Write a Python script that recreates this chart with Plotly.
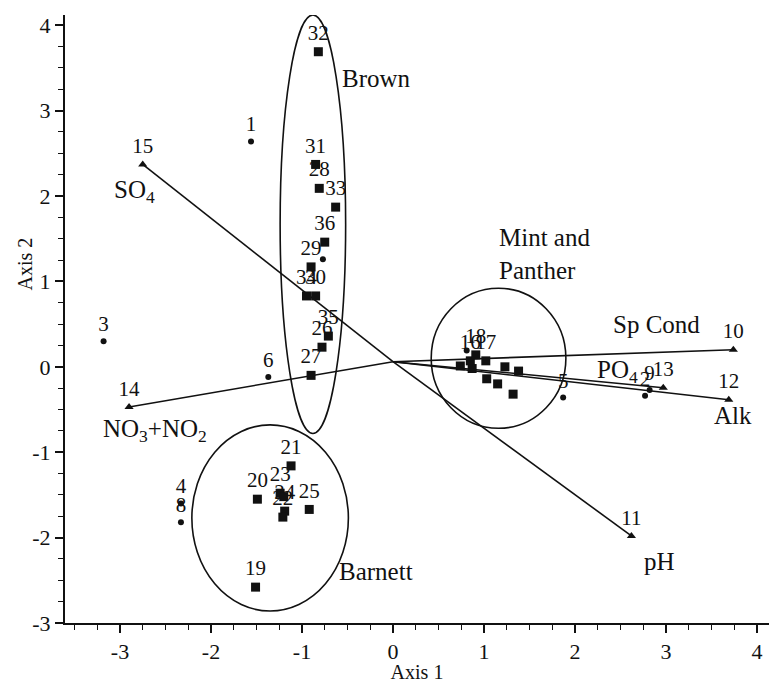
import plotly.graph_objects as go

# ---- ordination scores (Axis 1, Axis 2) ----
# Barnett group (squares)
barnett_ids = ["19", "20", "21", "23", "", "24", "22", "25"]
barnett_x = [-1.51, -1.49, -1.12, -1.24, -1.20, -1.19, -1.21, -0.92]
barnett_y = [-2.58, -1.55, -1.16, -1.48, -1.52, -1.69, -1.76, -1.67]

# Brown group (squares)
brown_ids = ["26", "27", "28", "29", "30", "31", "32", "33", "34", "35", "36"]
brown_x = [-0.78, -0.90, -0.81, -0.90, -0.85, -0.85, -0.82, -0.63, -0.95, -0.71, -0.75]
brown_y = [0.23, -0.10, 2.09, 1.17, 0.83, 2.37, 3.69, 1.87, 0.83, 0.36, 1.46]

# Mint and Panther group (squares)
mint_ids = ["16", "18", "17", "", "", "", "", "", "", ""]
mint_x = [0.85, 0.91, 1.02, 0.87, 1.03, 1.15, 1.32, 1.38, 1.23, 0.74]
mint_y = [0.07, 0.14, 0.07, -0.02, -0.14, -0.20, -0.32, -0.05, 0.00, 0.01]

# other sites (circles)
site_ids = ["1", "2", "3", "4", "5", "6", "8", "9", "", ""]
site_x = [-1.56, 2.77, -3.18, -2.33, 1.87, -1.37, -2.33, 2.82, -0.77, 0.81]
site_y = [2.64, -0.34, 0.30, -1.60, -0.36, -0.12, -1.82, -0.27, 1.26, 0.19]

# environmental vectors (triangles at the tips)
vec_ids = ["10", "11", "12", "13", "14", "15"]
vec_names = ["Sp Cond", "pH", "Alk", "PO<sub>4</sub>", "NO<sub>3</sub>+NO<sub>2</sub>", "SO<sub>4</sub>"]
vec_x = [3.74, 2.62, 3.69, 2.97, -2.90, -2.75]
vec_y = [0.20, -1.98, -0.385, -0.245, -0.47, 2.37]
vec_origin = (0.0, 0.06)
vec_label_x = [2.90, 2.93, 3.74, 2.47, -2.62, -2.84]
vec_label_y = [0.50, -2.28, -0.57, -0.05, -0.75, 2.05]

# group outlines: (name, centre x, centre y, radius x, radius y, label x, label y)
groups = [
    ("Brown", -0.88, 1.67, 0.36, 2.45, -0.18, 3.38),
    ("Barnett", -1.35, -1.77, 0.86, 1.09, -0.19, -2.40),
    ("Mint and<br>Panther", 1.16, 0.10, 0.74, 0.82, 1.14, 1.32),
]

# axis ticks (hyphen minus, as typeset)
tick_vals = [-3, -2, -1, 0, 1, 2, 3, 4]
tick_text = ["-3", "-2", "-1", "0", "1", "2", "3", "4"]

SERIF = "Liberation Serif, Times New Roman, serif"
BLACK = "#111111"

fig = go.Figure()

# vector lines from the centroid
for vx, vy in zip(vec_x, vec_y):
    fig.add_trace(go.Scatter(
        x=[vec_origin[0], vx], y=[vec_origin[1], vy], mode="lines",
        line=dict(color=BLACK, width=1.6), hoverinfo="skip", showlegend=False))

label_font = dict(family=SERIF, size=21, color=BLACK)


def add_points(xs, ys, ids, symbol, size):
    fig.add_trace(go.Scatter(
        x=xs, y=ys, mode="markers+text", text=ids, textposition="top center",
        textfont=label_font,
        marker=dict(symbol=symbol, size=size, color=BLACK, line=dict(width=0)),
        showlegend=False, cliponaxis=False))


add_points(barnett_x, barnett_y, barnett_ids, "square", 9)
add_points(brown_x, brown_y, brown_ids, "square", 9)
add_points(mint_x, mint_y, mint_ids, "square", 9)
add_points(site_x, site_y, site_ids, "circle", 6)
add_points(vec_x, vec_y, vec_ids, "triangle-up", 8)

shapes = []
annotations = []
for name, cx, cy, rx, ry, lx, ly in groups:
    shapes.append(dict(type="circle", xref="x", yref="y",
                       x0=cx - rx, x1=cx + rx, y0=cy - ry, y1=cy + ry,
                       line=dict(color=BLACK, width=1.6)))
    if name.startswith("Mint"):
        annotations.append(dict(x=lx, y=ly, xref="x", yref="y", text=name,
                                showarrow=False, xanchor="left", align="left",
                                font=dict(family=SERIF, size=25, color=BLACK)))
    else:
        annotations.append(dict(x=lx, y=ly, xref="x", yref="y", text=name,
                                showarrow=False,
                                font=dict(family=SERIF, size=25, color=BLACK)))

for name, lx, ly in zip(vec_names, vec_label_x, vec_label_y):
    annotations.append(dict(x=lx, y=ly, xref="x", yref="y", text=name,
                            showarrow=False,
                            font=dict(family=SERIF, size=25, color=BLACK)))

annotations.append(dict(x=-0.075, y=0.59, xref="paper", yref="paper",
                        text="Axis 2", textangle=-90, showarrow=False,
                        font=dict(family=SERIF, size=20, color=BLACK)))

axis_common = dict(
    showgrid=False, zeroline=False, showline=True, linecolor=BLACK, linewidth=2,
    ticks="outside", ticklen=8, tickwidth=1.5, tickcolor=BLACK,
    tickmode="array", tickvals=tick_vals, ticktext=tick_text,
    tickfont=dict(family=SERIF, size=22, color=BLACK),
    minor=dict(ticks="outside", ticklen=5, tickwidth=1.2, tickcolor=BLACK,
               tickmode="linear", tick0=0, dtick=0.25),
)

fig.update_layout(
    width=769, height=683,
    font=dict(family=SERIF, color=BLACK),
    margin=dict(l=65, r=0, t=15, b=60),
    paper_bgcolor="white", plot_bgcolor="white",
    xaxis=dict(range=[-3.604, 4.132],
               title=dict(text="Axis 1", font=dict(family=SERIF, size=20, color=BLACK),
                          standoff=4),
               **axis_common),
    yaxis=dict(range=[-3.0, 4.12], **axis_common),
    shapes=shapes, annotations=annotations,
)

fig.write_html("out.html")
